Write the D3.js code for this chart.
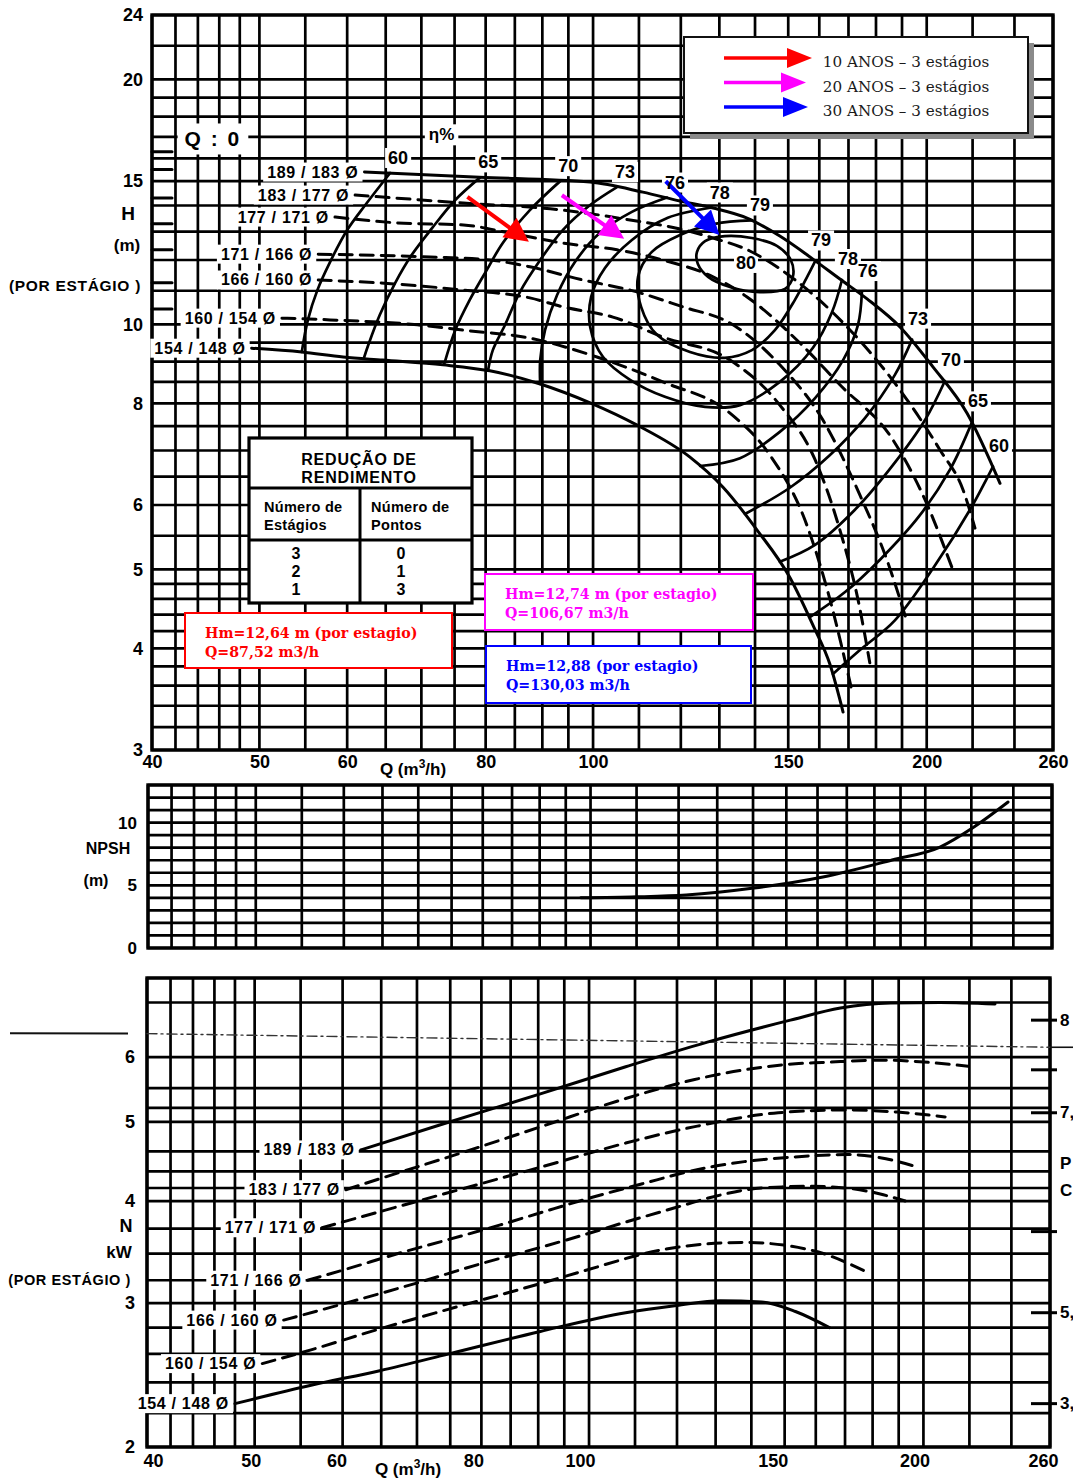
<!DOCTYPE html>
<html lang="pt">
<head>
<meta charset="utf-8">
<title>Curvas características da bomba</title>
<script src="https://cdn.jsdelivr.net/npm/d3@7/dist/d3.min.js"></script>
<style>
  html, body { margin: 0; padding: 0; background: #fff; overflow: hidden; }
  svg { display: block; }
</style>
</head>
<body>
<svg id="chart" width="1073" height="1481" xmlns="http://www.w3.org/2000/svg"></svg>
<script>
// ---------------- grid and tick values ----------------
const flowGrid  = [40,42,44,46,48,50,55,60,65,70,75,80,85,90,95,100,110,120,130,140,150,160,170,180,190,200,220,240,260];
const flowTicks = [40,50,60,80,100,150,200,260];
const headGrid  = [3,3.2,3.4,3.6,3.8,4,4.2,4.4,4.6,4.8,5,5.5,6,6.5,7,7.5,8,8.5,9,9.5,10,11,12,13,14,15,16,17,18,19,20,22,24];
const headTicks = [3,4,5,6,8,10,15,20,24];
const npshGrid  = [0,1,2,3,4,5,6,7,8,9,10,11,12,13];
const npshTicks = [0,5,10];
const powerGrid = [2,2.2,2.4,2.6,2.8,3,3.2,3.45,3.7,4,4.15,4.35,4.6,5,5.2,5.5,6,7,7.5];
const powerTicks = [2,3,4,5,6];
const powerAltTicksKw = [6.66,5.79,5.13,3.67,2.92,2.26];
const powerAltLabels  = ["8","","7,","","5,","3,"];

// ---------------- impeller diameters ----------------
const impellers = ["189 / 183","183 / 177","177 / 171","171 / 166","166 / 160","160 / 154","154 / 148"];
const impellerDashed = [false,true,true,true,true,true,false];

// shut-off head (Q = 0) per impeller, m
const shutoffHead = [16.3,15.5,14.3,13.3,12.35,11.25,10.45];

// ---------------- H x Q per impeller [Q m3/h, H m] ----------------
const head189 = [[62.2,15.39],[79.0,15.17],[99.4,14.96],[110.9,14.54],[119.8,14.18],[128.3,13.90],[137.7,13.51],[147.4,12.84],[157.9,12.03],[167.0,11.37],[176.7,10.75],[189.2,9.93],[202.6,8.87],[217.5,7.78],[232.9,6.38]];
const head183 = [[61.0,14.42],[76.4,14.10],[93.9,13.82],[108.0,13.44],[119.8,13.10],[128.3,12.77],[138.5,12.31],[150.5,11.47],[163.6,10.42],[177.7,9.25],[192.0,8.08],[205.6,7.01],[215.7,6.26],[221.1,5.62]];
const head177 = [[58.5,13.55],[66.5,13.33],[76.4,13.25],[84.1,12.95],[93.9,12.59],[105.1,12.35],[115.6,12.00],[128.3,11.44],[137.7,10.81],[152.7,9.57],[167.0,8.43],[186.5,7.21],[199.3,6.09],[211.2,4.99]];
const head171 = [[56.5,12.20],[71.3,12.10],[80.7,12.00],[87.7,11.77],[97.9,11.34],[108.0,11.02],[120.5,10.51],[132.9,10.04],[147.4,8.92],[161.2,7.63],[174.1,6.17],[184.1,5.14],[192.0,4.31]];
const head166 = [[56.5,11.34],[66.5,11.21],[76.4,11.02],[87.7,10.78],[93.9,10.51],[104.2,10.21],[115.6,9.65],[132.9,9.04],[147.4,7.96],[158.6,6.82],[167.0,5.59],[173.4,4.59],[177.7,3.84]];
const head160 = [[52.4,10.18],[57.9,10.13],[69.4,9.99],[76.4,9.84],[87.7,9.62],[100.8,9.12],[115.6,8.50],[132.9,7.78],[144.4,6.91],[155.3,5.75],[163.6,4.59],[171.2,3.55]];
const head154 = [[49.2,9.35],[54.6,9.25],[59.5,9.12],[64.6,9.04],[73.2,8.92],[80.7,8.77],[89.6,8.45],[99.4,8.01],[109.6,7.52],[122.3,6.87],[131.0,6.31],[140.6,5.59],[150.6,4.88],[157.9,4.27],[163.6,3.82],[168.1,3.34]];

// ---------------- iso-efficiency lines (%) [Q, H] ----------------
const eff60L = [[65.6,15.35],[62.3,14.02],[60.0,13.06],[57.9,11.93],[56.4,11.02],[55.3,10.13],[54.6,9.25]];
const eff65L = [[79.1,15.16],[75.1,14.22],[71.6,13.14],[68.6,12.17],[66.3,11.25],[64.2,10.27],[62.7,9.44],[62.1,9.08]];
const eff70L = [[93.4,15.0],[87.7,13.82],[82.9,12.59],[80.2,11.67],[77.4,10.72],[75.1,9.84],[73.4,8.94]];
const eff73L = [[105.1,14.75],[99.4,14.02],[93.9,13.06],[89.6,12.00],[85.9,10.96],[83.3,9.99],[81.2,9.30],[80.4,8.78]];
const eff76L = [[116.6,14.32],[108.4,13.75],[101.4,12.95],[96.3,11.93],[92.8,10.87],[90.5,9.84],[89.6,9.04],[89.6,8.45]];
const eff78  = [[128.0,13.92],[116.8,13.52],[108.4,12.70],[102.5,11.73],[99.6,10.81],[99.4,9.93],[102.1,9.12],[108.0,8.55],[116.1,8.15],[126.2,7.92],[135.7,7.96],[147.4,8.50],[157.9,9.36],[164.3,10.36],[167.7,11.34]];
const eff79  = [[139.1,13.42],[128.8,13.29],[119.8,12.88],[113.0,12.28],[109.8,11.44],[110.5,10.51],[114.2,9.71],[122.3,9.25],[131.5,9.10],[139.1,9.30],[145.9,9.84],[152.1,10.72],[156.3,11.50],[158.6,11.95]];
const eff80  = [[124.1,12.28],[126.2,12.66],[131.5,12.84],[139.1,12.77],[146.5,12.49],[150.8,12.00],[151.5,11.47],[149.0,11.06],[141.4,10.96],[132.9,11.12],[127.0,11.44],[124.3,11.87]];
const eff76R = [[174.8,10.96],[173.4,9.99],[168.1,9.04],[158.6,8.12],[147.4,7.38],[135.7,6.85],[124.9,6.70]];
const eff73R = [[194.0,9.58],[187.2,8.67],[175.9,7.67],[163.6,6.91],[150.5,6.30],[137.1,5.85]];
const eff70R = [[207.7,8.52],[199.3,7.63],[186.5,6.72],[172.3,5.92],[158.6,5.36],[147.4,5.11]];
const eff65R = [[219.7,7.58],[209.9,6.63],[197.2,5.83],[181.5,5.14],[168.8,4.69],[156.9,4.37]];
const eff60R = [[229.5,6.69],[218.8,5.92],[203.5,5.06],[187.2,4.33],[174.1,3.98],[164.6,3.72]];
const eff80Label = [137.4, 11.9];

// ---------------- NPSH required [Q, m] ----------------
const npshCurve = [[98.0,4.0],[110.0,4.08],[121.9,4.23],[140.3,4.78],[161.8,5.66],[186.7,7.02],[206.2,8.05],[221.2,9.65],[237.4,11.64]];

// ---------------- power per stage [Q, kW] ----------------
const power189 = [[62.3,4.62],[73.5,4.96],[90.4,5.41],[107.9,5.84],[127.8,6.26],[151.8,6.66],[168.4,6.89],[186.8,6.99],[207.0,7.00],[232.0,6.97]];
const power183 = [[60.4,4.13],[67.3,4.33],[74.8,4.53],[90.4,4.93],[107.9,5.34],[124.2,5.63],[138.0,5.79],[153.4,5.89],[162.2,5.91],[182.9,5.95],[219.4,5.85]];
const power177 = [[57.5,3.71],[69.7,3.99],[80.4,4.21],[90.4,4.40],[107.9,4.71],[124.2,4.93],[148.0,5.13],[170.4,5.17],[189.4,5.14],[209.2,5.07]];
const power171 = [[55.8,3.20],[60.4,3.30],[67.3,3.45],[74.8,3.59],[83.2,3.74],[90.4,3.87],[100.5,4.04],[111.7,4.20],[124.2,4.36],[138.0,4.47],[153.4,4.53],[170.4,4.56],[182.9,4.52],[197.8,4.40]];
const power166 = [[53.1,2.86],[60.4,3.00],[69.7,3.17],[80.4,3.36],[90.4,3.51],[98.5,3.63],[107.9,3.77],[119.9,3.93],[128.6,4.04],[143.0,4.15],[158.9,4.17],[170.4,4.15],[182.9,4.08],[192.6,4.00]];
const power160 = [[50.8,2.53],[56.2,2.63],[64.8,2.79],[74.8,2.95],[90.4,3.17],[98.5,3.28],[118.1,3.50],[138.0,3.56],[158.9,3.48],[176.6,3.29]];
const power154 = [[48.0,2.26],[56.2,2.38],[64.8,2.48],[74.8,2.60],[90.4,2.77],[107.9,2.92],[119.9,2.98],[131.3,3.02],[143.0,3.01],[153.4,2.93],[164.6,2.80]];

// ---------------- operating points (one per horizon) ----------------
const opQ      = [87.52, 106.67, 130.03];
const opH      = [12.64, 12.74, 12.88];
const opColor  = ["#ff0000", "#ff00ff", "#0000ff"];
const opLegend = ["10 ANOS – 3 estágios", "20 ANOS – 3 estágios", "30 ANOS – 3 estágios"];
const opLine1  = ["Hm=12,64 m (por estagio)", "Hm=12,74 m (por estagio)", "Hm=12,88 (por estagio)"];
const opLine2  = ["Q=87,52 m3/h", "Q=106,67 m3/h", "Q=130,03 m3/h"];

// efficiency-reduction table
const tableStages = ["3","2","1"];
const tablePoints = ["0","1","3"];

// =====================================================================
const SANS  = "'Liberation Sans', Arial, Helvetica, sans-serif";
const SERIF = "'DejaVu Serif', 'Liberation Serif', serif";
const INK = "#000";

const svg = d3.select("#chart");
svg.append("rect").attr("width", 1073).attr("height", 1481).attr("fill", "#fff");

// scales: head chart, NPSH strip, power chart (log flow axis on all three)
const xH = d3.scaleLog().domain([40, 260]).range([152, 1053]);
const yH = d3.scaleLog().domain([3, 24]).range([750, 15]);
const xN = d3.scaleLog().domain([40, 260]).range([148, 1052]);
const yN = d3.scaleLinear().domain([0, 13]).range([948, 785]);
const xP = d3.scaleLog().domain([40, 260]).range([147, 1050]);
const yP = d3.scaleLog().domain([2, 7.5]).range([1447, 978]);

const gGrid   = svg.append("g");
const gBg     = svg.append("g");
const gCurves = svg.append("g").attr("fill", "none").attr("stroke-linecap", "round").attr("stroke-linejoin", "round");
const gOver   = svg.append("g");
const gText   = svg.append("g");

function drawGrid(x, y, xs, ys) {
  const [x0, x1] = x.range();
  const [yb, yt] = y.range();
  gGrid.append("g").selectAll("line").data(xs).join("line")
    .attr("x1", d => x(d)).attr("x2", d => x(d)).attr("y1", yb).attr("y2", yt)
    .attr("stroke", INK).attr("stroke-width", 2.7);
  gGrid.append("g").selectAll("line").data(ys).join("line")
    .attr("x1", x0).attr("x2", x1).attr("y1", d => y(d)).attr("y2", d => y(d))
    .attr("stroke", INK).attr("stroke-width", 2.7);
  gGrid.append("rect").attr("x", x0).attr("y", yt).attr("width", x1 - x0).attr("height", yb - yt)
    .attr("fill", "none").attr("stroke", INK).attr("stroke-width", 3.4);
}

function styleAxis(sel, size) {
  sel.attr("font-family", null).attr("font-size", null);
  sel.select(".domain").remove();
  sel.selectAll(".tick line").remove();
  sel.selectAll("text").attr("font-family", SANS).attr("font-weight", "bold")
    .attr("font-size", size).attr("fill", INK);
}

function label(x, y, txt, o = {}) {
  const t = gText.append("text")
    .attr("x", x).attr("y", y)
    .attr("text-anchor", o.anchor || "middle")
    .attr("dominant-baseline", "central")
    .attr("font-family", o.family || SANS)
    .attr("font-weight", o.weight || "bold")
    .attr("font-size", o.size || 15)
    .attr("letter-spacing", o.ls || 0)
    .attr("fill", o.color || INK)
    .text(txt);
  if (o.bg) {
    const b = t.node().getBBox();
    const px = o.padX ?? 2, py = o.padY ?? 0;
    gBg.append("rect").attr("x", b.x - px).attr("y", b.y - py)
      .attr("width", b.width + 2 * px).attr("height", b.height + 2 * py).attr("fill", "#fff");
  }
  return t;
}

function curve(x, y, pts, o = {}) {
  const gen = d3.line().x(d => x(d[0])).y(d => y(d[1]))
    .curve(o.closed ? d3.curveCatmullRomClosed.alpha(0.5) : (o.mono ? d3.curveMonotoneX : d3.curveCatmullRom.alpha(0.5)));
  return gCurves.append("path").attr("d", gen(pts))
    .attr("stroke", INK).attr("stroke-width", o.w || 2.8)
    .attr("stroke-dasharray", o.dash ? "13,8" : null);
}

function arrow(g, tipX, tipY, angleDeg, len, color, headLen, headHalf, width) {
  const a = angleDeg * Math.PI / 180;
  const ux = Math.cos(a), uy = Math.sin(a);
  const tx = tipX - ux * len, ty = tipY - uy * len;
  const bx = tipX - ux * headLen, by = tipY - uy * headLen;
  g.append("line").attr("x1", tx).attr("y1", ty).attr("x2", bx + ux * 3).attr("y2", by + uy * 3)
    .attr("stroke", color).attr("stroke-width", width);
  g.append("path")
    .attr("d", `M${tipX},${tipY}L${bx - uy * headHalf},${by + ux * headHalf}L${bx + uy * headHalf},${by - ux * headHalf}Z`)
    .attr("fill", color);
}

// ============================ HEAD CHART ============================
drawGrid(xH, yH, flowGrid, headGrid);

const axHL = gText.append("g").attr("transform", `translate(${xH(40)},0)`)
  .call(d3.axisLeft(yH).tickValues(headTicks).tickSize(0).tickPadding(9).tickFormat(d3.format("d")));
styleAxis(axHL, 18);
const axHB = gText.append("g").attr("transform", `translate(0,${yH(3)})`)
  .call(d3.axisBottom(xH).tickValues(flowTicks).tickSize(0).tickPadding(5).tickFormat(d3.format("d")));
styleAxis(axHB, 18);

label(128, 213, "H", { size: 19 });
label(127, 245, "(m)", { size: 17 });
label(141, 285, "(POR ESTÁGIO )", { anchor: "end", size: 15.5, ls: 0.7 });
{
  const t = gText.append("text").attr("x", 413).attr("y", 775).attr("text-anchor", "middle")
    .attr("font-family", SANS).attr("font-weight", "bold").attr("font-size", 17).attr("fill", INK);
  t.append("tspan").text("Q (m");
  t.append("tspan").attr("dy", -7).attr("font-size", 12).text("3");
  t.append("tspan").attr("dy", 7).text("/h)");
}

// shut-off head marks on the H axis
gCurves.append("g").selectAll("line").data(shutoffHead).join("line")
  .attr("x1", xH(40)).attr("x2", xH(40) + 20)
  .attr("y1", d => yH(d)).attr("y2", d => yH(d))
  .attr("stroke", INK).attr("stroke-width", 3);
label(xH(45.4), yH(16.9), "Q : 0", { size: 21, ls: 2, bg: true, padX: 7, padY: 4 });

// H x Q curves with impeller labels
const headCurves = [head189, head183, head177, head171, head166, head160, head154];
headCurves.forEach((pts, i) => {
  curve(xH, yH, pts, { mono: true, dash: impellerDashed[i], w: 3 });
  label(xH(pts[0][0]) - 6, yH(pts[0][1]), impellers[i] + " Ø",
    { anchor: "end", size: 16, ls: 0.7, bg: true, padX: 4, padY: 1 });
});

// iso-efficiency lines
[eff60L, eff65L, eff70L, eff73L, eff76L, eff78, eff79, eff76R, eff73R, eff70R, eff65R, eff60R]
  .forEach(pts => curve(xH, yH, pts, { w: 2.7 }));
curve(xH, yH, eff80, { closed: true, w: 2.7 });

// efficiency values where each line meets the largest impeller curve
const topEff = [[60, eff60L[0]], [65, eff65L[0]], [70, eff70L[0]], [73, eff73L[0]], [76, eff76L[0]], [78, eff78[0]], [79, eff79[0]]];
topEff.forEach(([v, p]) => label(xH(p[0]) + 8, yH(p[1]) - 15, String(v), { size: 18, bg: true, padX: 3, padY: 0 }));
const rightEff = [[79, eff79[eff79.length - 1]], [78, eff78[eff78.length - 1]], [76, eff76R[0]], [73, eff73R[0]], [70, eff70R[0]], [65, eff65R[0]], [60, eff60R[0]]];
rightEff.forEach(([v, p]) => label(xH(p[0]) + 6, yH(p[1]) - 21, String(v), { size: 18, bg: true, padX: 3, padY: 0 }));
label(xH(eff80Label[0]), yH(eff80Label[1]), "80", { size: 18, bg: true, padX: 2, padY: 0 });
label(xH(73), yH(17.1), "η%", { size: 17, bg: true, padX: 4, padY: 1 });

// operating-point arrows
const arrowAngle = [36, 35, 45];
opQ.forEach((q, i) => arrow(gOver, xH(q), yH(opH[i]), arrowAngle[i], 76, opColor[i], 24, 12, 4));

// efficiency-reduction table
{
  const g = gOver.append("g");
  const L = 249, T = 438, R = 472, B = 603, C = 360, R1 = 488, R2 = 540;
  g.append("rect").attr("x", L).attr("y", T).attr("width", R - L).attr("height", B - T)
    .attr("fill", "#fff").attr("stroke", INK).attr("stroke-width", 3.2);
  g.append("line").attr("x1", L).attr("x2", R).attr("y1", R1).attr("y2", R1).attr("stroke", INK).attr("stroke-width", 3);
  g.append("line").attr("x1", L).attr("x2", R).attr("y1", R2).attr("y2", R2).attr("stroke", INK).attr("stroke-width", 3);
  g.append("line").attr("x1", C).attr("x2", C).attr("y1", R1).attr("y2", B).attr("stroke", INK).attr("stroke-width", 3);
  label(359, 459, "REDUÇÃO DE", { size: 16, ls: 0.8 });
  label(359, 477, "RENDIMENTO", { size: 16, ls: 0.8 });
  label(264, 507, "Número de", { anchor: "start", size: 14.5, ls: 0.3 });
  label(264, 525, "Estágios", { anchor: "start", size: 14.5, ls: 0.3 });
  label(371, 507, "Número de", { anchor: "start", size: 14.5, ls: 0.3 });
  label(371, 525, "Pontos", { anchor: "start", size: 14.5, ls: 0.3 });
  tableStages.forEach((s, i) => label(296, 553 + i * 18, s, { size: 16 }));
  tablePoints.forEach((s, i) => label(401, 553 + i * 18, s, { size: 16 }));
}

// operating-point notes
{
  const boxes = [[185, 613, 452, 668], [485, 574, 753, 630], [486, 646, 751, 703]];
  boxes.forEach(([x0, y0, x1, y1], i) => {
    gOver.append("rect").attr("x", x0).attr("y", y0).attr("width", x1 - x0).attr("height", y1 - y0)
      .attr("fill", "#fff").attr("stroke", opColor[i]).attr("stroke-width", 2);
    label(x0 + 20, y0 + 20, opLine1[i], { anchor: "start", family: SERIF, size: 14.2, color: opColor[i] });
    label(x0 + 20, y0 + 39, opLine2[i], { anchor: "start", family: SERIF, size: 14.2, color: opColor[i] });
  });
}

// legend
{
  const g = gOver.append("g");
  g.append("rect").attr("x", 690).attr("y", 43).attr("width", 344).attr("height", 96).attr("fill", "#8a8a8a");
  g.append("rect").attr("x", 684).attr("y", 37).attr("width", 344).attr("height", 96)
    .attr("fill", "#fff").attr("stroke", "#111").attr("stroke-width", 2);
  const shaftTrim = [0, 6, 4];
  opLegend.forEach((txt, i) => {
    const yy = 58 + i * 24.5;
    arrow(g, 812 - shaftTrim[i], yy, 0, 88 - shaftTrim[i], opColor[i], 25, 10, 3.5);
    label(906, yy + 4, txt, { family: SERIF, weight: "normal", size: 15.2, color: "#1a1a1a" });
  });
}

// ============================ NPSH STRIP ============================
drawGrid(xN, yN, flowGrid, npshGrid);
const axNL = gText.append("g").attr("transform", `translate(${xN(40)},0)`)
  .call(d3.axisLeft(yN).tickValues(npshTicks).tickSize(0).tickPadding(11).tickFormat(d3.format("d")));
styleAxis(axNL, 17);
label(108, 848, "NPSH", { size: 16 });
label(96, 880, "(m)", { size: 16 });
curve(xN, yN, npshCurve, { mono: true, w: 3 });

// ============================ POWER CHART ============================
drawGrid(xP, yP, flowGrid, powerGrid);
const axPL = gText.append("g").attr("transform", `translate(${xP(40)},0)`)
  .call(d3.axisLeft(yP).tickValues(powerTicks).tickSize(0).tickPadding(12).tickFormat(d3.format("d")));
styleAxis(axPL, 18);
const axPB = gText.append("g").attr("transform", `translate(0,${yP(2)})`)
  .call(d3.axisBottom(xP).tickValues(flowTicks).tickSize(0).tickPadding(7).tickFormat(d3.format("d")));
styleAxis(axPB, 18);
const powerTickNudge = { 40: 6, 50: -4, 60: -6, 80: -8, 100: -9, 150: -12, 200: -9, 260: -7 };
axPB.selectAll("text").attr("dx", d => powerTickNudge[d] || 0);
label(126, 1226, "N", { size: 18 });
label(119, 1252, "kW", { size: 17 });
label(131, 1280, "(POR ESTÁGIO )", { anchor: "end", size: 14.5, ls: 0.6 });
{
  const t = gText.append("text").attr("x", 408).attr("y", 1475).attr("text-anchor", "middle")
    .attr("font-family", SANS).attr("font-weight", "bold").attr("font-size", 17).attr("fill", INK);
  t.append("tspan").text("Q (m");
  t.append("tspan").attr("dy", -7).attr("font-size", 12).text("3");
  t.append("tspan").attr("dy", 7).text("/h)");
}

// secondary power scale on the right edge
gText.append("g").selectAll("line").data(powerAltTicksKw).join("line")
  .attr("x1", xP(260) - 19).attr("x2", xP(260) + 7)
  .attr("y1", d => yP(d)).attr("y2", d => yP(d))
  .attr("stroke", INK).attr("stroke-width", 3);
powerAltTicksKw.forEach((v, i) => {
  if (powerAltLabels[i]) label(xP(260) + 10, yP(v), powerAltLabels[i], { anchor: "start", size: 17 });
});
label(xP(260) + 10, yP(4.45), "P", { anchor: "start", size: 17 });
label(xP(260) + 10, yP(4.12), "C", { anchor: "start", size: 17 });

// fold line crossing the power sheet
{
  const yl = yP(6.42), yr = yP(6.17);
  gText.append("line").attr("x1", 10).attr("x2", 128).attr("y1", yl).attr("y2", yl + 0.3)
    .attr("stroke", "#111").attr("stroke-width", 2);
  gCurves.append("line").attr("x1", xP(40)).attr("x2", xP(260)).attr("y1", yl + 0.5).attr("y2", yr)
    .attr("stroke", "#333").attr("stroke-width", 1.4).attr("stroke-dasharray", "10,4,2,4");
  gText.append("line").attr("x1", xP(260)).attr("x2", 1073).attr("y1", yr).attr("y2", yr)
    .attr("stroke", "#111").attr("stroke-width", 1.6);
}

const powerCurves = [power189, power183, power177, power171, power166, power160, power154];
powerCurves.forEach((pts, i) => {
  curve(xP, yP, pts, { mono: true, dash: impellerDashed[i], w: 3 });
  label(xP(pts[0][0]) - 6, yP(pts[0][1]), impellers[i] + " Ø",
    { anchor: "end", size: 16, ls: 0.7, bg: true, padX: 4, padY: 1 });
});
</script>
</body>
</html>
